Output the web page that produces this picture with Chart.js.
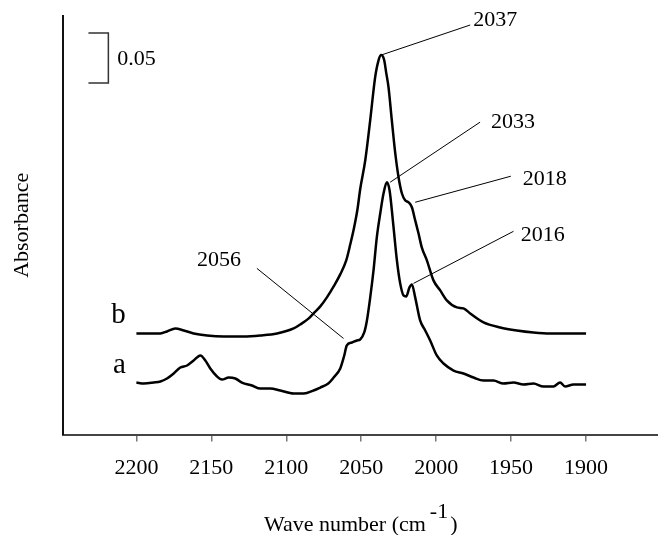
<!DOCTYPE html>
<html lang="en">
<head>
<meta charset="utf-8">
<title>Absorbance spectra a / b</title>
<script src="https://cdn.jsdelivr.net/npm/chart.js@4/dist/chart.umd.min.js"></script>
<style>
  html, body { margin: 0; padding: 0; background: #fff; }
  #spectre { display: block; }
</style>
</head>
<body>
<canvas id="spectre" width="658" height="535"></canvas>
<script>
// ============================================================
//  IR spectra (a, b) — absorbance vs wave number
// ============================================================

/* ── Données ────────────────────────────────────────────── */
const waveB = [2200, 2192, 2184, 2179.6, 2174, 2168.4, 2161.8, 2152.9, 2141.8, 2128.4,
               2117.3, 2106.2, 2095.1, 2090.7, 2085, 2081.8, 2077.3, 2072.9, 2068.4, 2064,
               2060, 2057.3, 2055, 2052.5, 2050.7, 2047.3, 2044, 2040.7, 2038.4, 2036.7,
               2034.7, 2033.3, 2031.8, 2029.6, 2027.3, 2025.1, 2022.9, 2020.7, 2018.4, 2016.2,
               2014, 2011.8, 2009.6, 2006.2, 2001.8, 1997.3, 1992.9, 1986.2, 1981.8, 1977.3,
               1968.4, 1957.3, 1946.2, 1935.1, 1924, 1912.9, 1900];
const absB  = [0.101, 0.101, 0.101, 0.103, 0.106, 0.104, 0.101, 0.099, 0.098, 0.098,
               0.099, 0.101, 0.106, 0.110, 0.116, 0.121, 0.128, 0.137, 0.148, 0.160,
               0.174, 0.190, 0.205, 0.225, 0.245, 0.274, 0.314, 0.357, 0.374, 0.379,
               0.374, 0.361, 0.347, 0.314, 0.281, 0.257, 0.241, 0.234, 0.232, 0.227,
               0.214, 0.201, 0.187, 0.174, 0.154, 0.144, 0.134, 0.127, 0.126, 0.121,
               0.112, 0.107, 0.104, 0.102, 0.101, 0.101, 0.101];

const waveA = [2200, 2195, 2188.4, 2184, 2179.6, 2175.1, 2170.7, 2166.2, 2161.8, 2157.3,
               2154, 2150.7, 2146.2, 2142.9, 2138.4, 2134, 2129.6, 2122.9, 2117.3, 2110.7,
               2104, 2095.1, 2088.4, 2081.8, 2077.3, 2072, 2068.4, 2064, 2061.5, 2059.6,
               2056.2, 2052.9, 2050.7, 2048, 2046.2, 2044, 2041.8, 2039.6, 2037.3, 2035.1,
               2032.9, 2031.1, 2028.9, 2026.2, 2024, 2021.8, 2020, 2017.8, 2016.2, 2014,
               2010.7, 2007.3, 2004, 1999.6, 1995.1, 1988.4, 1981.8, 1975.1, 1968.4, 1961.8,
               1955.1, 1948.4, 1941.8, 1935.1, 1928.4, 1921.8, 1917.3, 1914, 1908.4, 1900];
const absA  = [0.052, 0.051, 0.052, 0.053, 0.056, 0.061, 0.067, 0.069, 0.074, 0.079,
               0.074, 0.066, 0.058, 0.055, 0.057, 0.056, 0.052, 0.049, 0.046, 0.046,
               0.044, 0.041, 0.041, 0.044, 0.047, 0.051, 0.057, 0.066, 0.078, 0.089,
               0.092, 0.094, 0.095, 0.102, 0.114, 0.137, 0.164, 0.197, 0.221, 0.241,
               0.252, 0.244, 0.214, 0.174, 0.151, 0.139, 0.138, 0.147, 0.150, 0.137,
               0.114, 0.104, 0.094, 0.079, 0.071, 0.064, 0.061, 0.057, 0.054, 0.054,
               0.051, 0.052, 0.050, 0.051, 0.048, 0.048, 0.052, 0.048, 0.050, 0.050];

const xTicks = [2200, 2150, 2100, 2050, 2000, 1950, 1900];

// Pics annotés : point sur la courbe -> bout du trait -> début du texte
const peakLabels = ['2037', '2033', '2018', '2016', '2056'];
const peakOnCurve = [[2036.7, 0.379], [2030.7, 0.252], [2014.0, 0.232], [2015.1, 0.151], [2061.8, 0.096]];
const peakLineEnd = [[1977.3, 0.409], [1970.7, 0.312], [1950.2, 0.258], [1948.4, 0.203], [2119.6, 0.166]];
const peakTextAt  = [[1975.3, 0.414], [1963.5, 0.312], [1942.2, 0.255], [1943.5, 0.199], [2159.5, 0.174]];

// Noms des courbes
const curveNames = ['b', 'a'];
const curveNameAt = [[2212, 0.111], [2211.3, 0.062]];

// Barre d'échelle 0.05
const scaleBarX = [2232, 2218.7, 2218.7, 2232];
const scaleBarY = [0.401, 0.401, 0.351, 0.351];
const scaleBarLabel = '0.05';
const scaleBarLabelAt = [2212.7, 0.375];

/* ── Helpers ────────────────────────────────────────────── */
const toPoints = (xs, ys) => xs.map((v, i) => ({ x: v, y: ys[i] }));
const FONT = '"Liberation Serif", "Times New Roman", serif';

const traits = peakOnCurve.map((p, i) => ({
    data: [{ x: p[0], y: p[1] }, { x: peakLineEnd[i][0], y: peakLineEnd[i][1] }],
    borderColor: '#000',
    borderWidth: 1,
    pointRadius: 0,
    tension: 0,
}));

/* ── Textes (annotations + titre de l'axe x) ────────────── */
const textesPlugin = {
    id: 'textes',
    afterDraw(chart) {
        const { ctx, scales: { x, y }, chartArea } = chart;
        ctx.save();
        ctx.fillStyle = '#000';

        ctx.font = `22px ${FONT}`;
        ctx.textAlign = 'left';
        ctx.textBaseline = 'middle';
        peakLabels.forEach((t, i) => {
            ctx.fillText(t, x.getPixelForValue(peakTextAt[i][0]), y.getPixelForValue(peakTextAt[i][1]));
        });
        ctx.fillText(scaleBarLabel, x.getPixelForValue(scaleBarLabelAt[0]), y.getPixelForValue(scaleBarLabelAt[1]));

        ctx.font = `29px ${FONT}`;
        ctx.textAlign = 'center';
        ctx.textBaseline = 'alphabetic';
        curveNames.forEach((t, i) => {
            ctx.fillText(t, x.getPixelForValue(curveNameAt[i][0]), y.getPixelForValue(curveNameAt[i][1]));
        });

        // Titre x avec exposant
        ctx.font = `22px ${FONT}`;
        ctx.textAlign = 'left';
        const t1 = 'Wave number (cm', t2 = '-1', t3 = ')';
        const w1 = ctx.measureText(t1).width;
        const w2 = ctx.measureText(t2).width;
        const w3 = ctx.measureText(t3).width;
        const total = w1 + 4 + w2 + 2 + w3;
        let xx = (chartArea.left + chartArea.right) / 2 - total / 2;
        const base = chartArea.bottom + 96;
        ctx.fillText(t1, xx, base);
        xx += w1 + 4;
        ctx.fillText(t2, xx, base - 13);
        xx += w2 + 2;
        ctx.fillText(t3, xx, base);
        ctx.restore();
    }
};

/* ── Graphique ──────────────────────────────────────────── */
Chart.defaults.font.family = FONT;
Chart.defaults.font.size = 22;
Chart.defaults.color = '#000';

new Chart(document.getElementById('spectre'), {
    type: 'line',
    data: {
        datasets: [
            {
                label: 'b',
                data: toPoints(waveB, absB),
                borderColor: '#000',
                borderWidth: 2.5,
                pointRadius: 0,
                cubicInterpolationMode: 'monotone',
            },
            {
                label: 'a',
                data: toPoints(waveA, absA),
                borderColor: '#000',
                borderWidth: 2.5,
                pointRadius: 0,
                cubicInterpolationMode: 'monotone',
            },
            {
                label: 'échelle',
                data: toPoints(scaleBarX, scaleBarY),
                borderColor: '#333',
                borderWidth: 1.5,
                pointRadius: 0,
                tension: 0,
            },
            ...traits,
        ]
    },
    options: {
        responsive: false,
        animation: false,
        layout: { padding: { left: 9, top: 16, right: 0, bottom: 41 } },
        plugins: {
            legend: { display: false },
            tooltip: { enabled: false },
        },
        scales: {
            x: {
                type: 'linear',
                reverse: true,
                min: 1852,
                max: 2248.7,
                afterBuildTicks: axis => { axis.ticks = xTicks.map(v => ({ value: v })); },
                grid: { display: true, drawOnChartArea: false, drawTicks: true, tickLength: 7, color: '#777', lineWidth: 1.5 },
                border: { display: true, color: '#444', width: 2 },
                ticks: {
                    padding: 13, maxRotation: 0, autoSkip: false, color: '#000', font: { size: 22 },
                    callback: v => String(v),
                },
                title: { display: false },
            },
            y: {
                min: 0,
                max: 0.418,
                grid: { display: false, drawTicks: false },
                border: { display: true, color: '#111', width: 2 },
                ticks: { display: false },
                title: {
                    display: true,
                    text: 'Absorbance',
                    color: '#000',
                    font: { size: 22 },
                    padding: { top: 0, bottom: 28 },
                },
            },
        },
    },
    plugins: [textesPlugin],
});
</script>
</body>
</html>
